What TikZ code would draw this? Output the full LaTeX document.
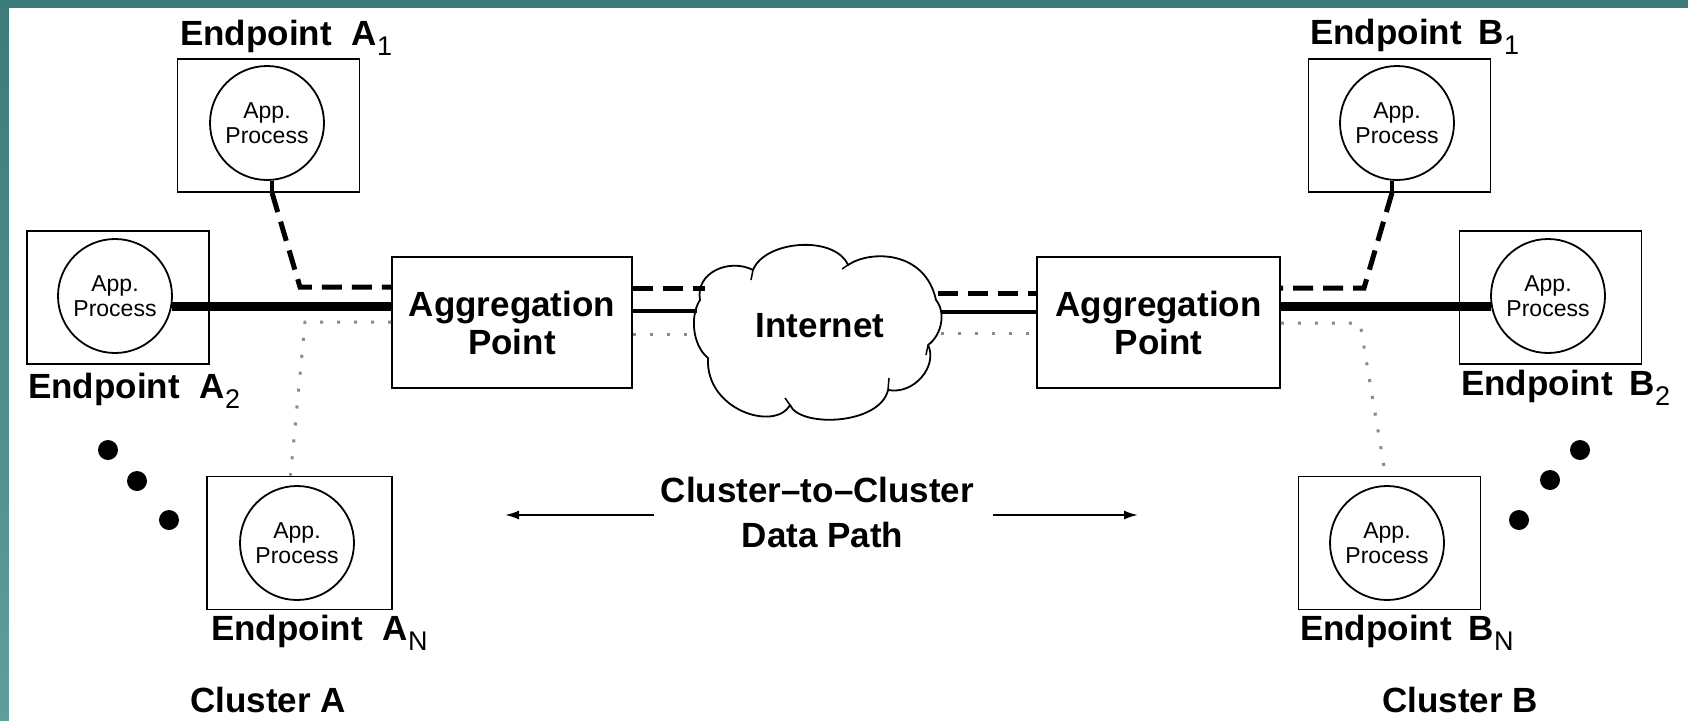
\documentclass[tikz,border=0pt]{standalone}
\usepackage{fontspec}
\setmainfont{Liberation Sans}
\usetikzlibrary{arrows.meta,calc}
\definecolor{tealtop}{HTML}{3B7B79}
\definecolor{tealbot}{HTML}{5E9F9C}
\definecolor{dotgray}{HTML}{8A8A8A}
\newcommand\epsub[1]{\raisebox{-10pt}{\fontsize{27}{30}\selectfont\mdseries #1}}
\begin{document}
\begin{tikzpicture}[x=1pt,y=-1pt,
  lbl/.style={font=\fontsize{35}{40}\selectfont\bfseries, inner sep=0, anchor=base west},
  ebox/.style={draw, line width=1.8pt, minimum width=182pt, minimum height=133pt, inner sep=0},
  proc/.style={draw, fill=white, circle, line width=1.8pt, minimum size=114pt, inner sep=0, align=center, font=\fontsize{23}{25}\selectfont},
  agg/.style={draw, line width=1.8pt, minimum height=131pt, inner sep=0, align=center, font=\fontsize{35}{38}\selectfont\bfseries},
  thickln/.style={line width=9pt},
  solidln/.style={line width=4pt},
  dashln/.style={line width=5pt, dash pattern=on 20pt off 10pt},
  dotln/.style={line width=3pt, dotgray, dash pattern=on 3pt off 14pt},
  dotfill/.style={fill=black, draw=none},
  arr/.style={line width=2pt, -{Latex[length=14pt,width=9pt]}},
]
\useasboundingbox (0,0) rectangle (1688,720);
\shade[top color=tealtop, bottom color=tealbot] (0,0) rectangle (1688,720);
\fill[white] (9,8) rectangle (1700,730);

% endpoint boxes
\node[ebox] (bA1) at (268.5,125.5) {};
\node[ebox] (bA2) at (118,297.5) {};
\node[ebox, minimum width=185pt] (bAN) at (299.5,543) {};
\node[ebox] (bB1) at (1399.5,125.5) {};
\node[ebox] (bB2) at (1550.5,297.5) {};
\node[ebox] (bBN) at (1389.5,543) {};

% processes
\node[proc] (cA1) at (267,123) {App.\\Process};
\node[proc] (cA2) at (115,296) {App.\\Process};
\node[proc] (cAN) at (297,543) {App.\\Process};
\node[proc] (cB1) at (1397,123) {App.\\Process};
\node[proc] (cB2) at (1548,296) {App.\\Process};
\node[proc] (cBN) at (1387,543) {App.\\Process};

% labels
\node[lbl] (lA1) at (180,45) {Endpoint\hspace{20pt}A\epsub{1}};
\node[lbl] (lA2) at (28,398) {Endpoint\hspace{20pt}A\epsub{2}};
\node[lbl] (lAN) at (211,640) {Endpoint\hspace{20pt}A\epsub{N}};
\node[lbl] (lB1) at (1310,44) {Endpoint\hspace{17pt}B\epsub{1}};
\node[lbl] (lB2) at (1461,395) {Endpoint\hspace{17pt}B\epsub{2}};
\node[lbl] (lBN) at (1300,640) {Endpoint\hspace{17pt}B\epsub{N}};
\node[lbl] (clA) at (190,712) {Cluster A};
\node[lbl] (clB) at (1382,712) {Cluster B};

% aggregation points
\node[agg, minimum width=240pt] (aggA) at (512,322.5) {Aggregation\\Point};
\node[agg, minimum width=243pt] (aggB) at (1158.5,322.5) {Aggregation\\Point};

% cloud
\draw[line width=1.8pt, line join=round]
  (700,300) .. controls (695,272) and (730,258) .. (753,270)
  .. controls (765,240) and (835,235) .. (848,265)
  .. controls (870,250) and (925,250) .. (936,300)
  .. controls (946,312) and (942,335) .. (928,345)
  .. controls (938,365) and (915,395) .. (888,390)
  .. controls (880,425) and (800,428) .. (790,405)
  .. controls (775,432) and (705,410) .. (708,358)
  .. controls (692,345) and (690,315) .. (700,300) -- cycle;
\draw[line width=1.5pt] (753,270) -- (751,280);
\draw[line width=1.5pt] (848,265) -- (842,269);
\draw[line width=1.5pt] (888,390) -- (889,378);
\draw[line width=1.5pt] (790,405) -- (785,398);
\draw[line width=1.5pt] (928,345) -- (926,355);
\node[font=\fontsize{35}{40}\selectfont\bfseries, inner sep=0] (inet) at (820,326) {Internet};

\coordinate (cLd) at (705,288);
\coordinate (cLs) at (697,311);
\coordinate (cLo) at (697,334);
\coordinate (cRd) at (938,293);
\coordinate (cRs) at (941,312);
\coordinate (cRo) at (941,333);

\draw[dashln] (aggA.east |- cLd) -- (cLd);
\draw[solidln] (aggA.east |- cLs) -- (cLs);
\draw[dotln] (aggA.east |- cLo) -- (cLo);
\draw[dashln] (cRd) -- (cRd -| aggB.west);
\draw[solidln] (cRs) -- (cRs -| aggB.west);
\draw[dotln] (cRo) -- (cRo -| aggB.west);

% cluster A connectors
\draw[thickln] (cA2.-10) -- (cA2.-10 -| aggA.west);
\coordinate (kA1) at (300,287);
\draw[line width=4pt] (cA1.-85) -- (cA1.-85 |- bA1.south);
\draw[dashln] (cA1.-85 |- bA1.south) -- (kA1) -- (kA1 -| aggA.west);
\coordinate (kA2) at (305,322);
\draw[dotln] (aggA.west |- kA2) -- (kA2) -- ($(bAN.north)+(-9,0)$);

% cluster B connectors
\draw[thickln] (aggB.east |- cB2.190) -- (cB2.190);
\coordinate (kB1) at (1364,288);
\draw[line width=4pt] (cB1.-95) -- (cB1.-95 |- bB1.south);
\draw[dashln] (cB1.-95 |- bB1.south) -- (kB1) -- (kB1 -| aggB.east);
\coordinate (kB2) at (1360,323);
\draw[dotln] (aggB.east |- kB2) -- (kB2) -- ($(bBN.north)+(-4,0)$);

% ellipsis dots
\fill[dotfill] (108,450) circle (10) (137,481) circle (10) (169,520) circle (10);
\fill[dotfill] (1580,450) circle (10) (1550,480) circle (10) (1519,520) circle (10);

% data path
\node[lbl, anchor=base] (dp1) at (817.5,502) {Cluster--to--Cluster};
\node[lbl, anchor=base] (dp2) at (822.5,547) {Data Path};
\coordinate (dpLs) at (654,515);
\coordinate (dpLt) at (505,515);
\coordinate (dpRs) at (993,515);
\coordinate (dpRt) at (1138,515);
\draw[arr] (dpLs) -- (dpLt);
\draw[arr] (dpRs) -- (dpRt);
\end{tikzpicture}
\end{document}
